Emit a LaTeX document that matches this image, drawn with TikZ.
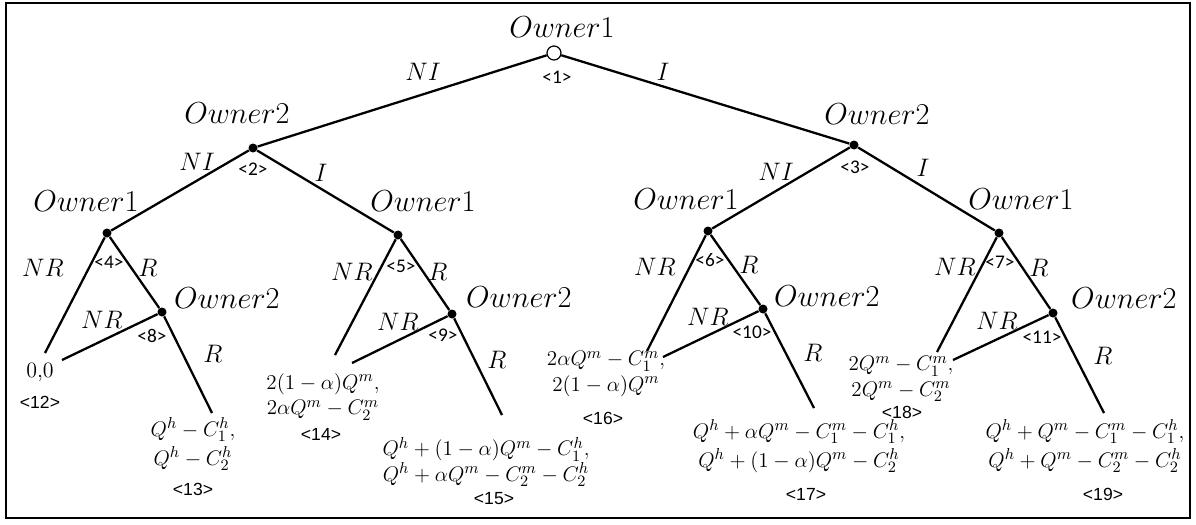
\documentclass[tikz,border=0pt]{standalone}
\usepackage{fontspec}
\newfontfamily\idxfont{Carlito}
\newfontfamily\leaffont{Liberation Sans}
\begin{document}
\begin{tikzpicture}[x=0.02cm,y=-0.02cm,
  dec/.style={circle,fill,inner sep=0pt,minimum size=0.18cm},
  root/.style={circle,draw,fill=white,inner sep=0pt,minimum size=0.28cm,line width=0.7pt},
  edge/.style={line width=1.3pt},
  owner/.style={font=\fontsize{16.5}{19}\selectfont},
  move/.style={font=\fontsize{15.5}{18}\selectfont},
  idx/.style={font=\idxfont\fontsize{11}{13}\selectfont,inner sep=0pt},
  leafidx/.style={font=\leaffont\fontsize{10}{12}\selectfont,inner sep=0pt},
  pay/.style={font=\fontsize{12.5}{14.5}\selectfont,align=center,inner sep=0pt}]
  \useasboundingbox (0,0) rectangle (1196,524);
  % Frame
  \draw[line width=1.3pt] (6,3) rectangle (1190,518);
  % Decision nodes
  \node[root] (n1) at (554,53) {};
  \node[dec] (n2) at (253,148) {};
  \node[dec] (n3) at (854,145) {};
  \node[dec] (n4) at (107,233) {};
  \node[dec] (n5) at (398,235) {};
  \node[dec] (n6) at (708,231) {};
  \node[dec] (n7) at (999,233) {};
  \node[dec] (n8) at (162,312) {};
  \node[dec] (n9) at (452,314) {};
  \node[dec] (n10) at (763,309) {};
  \node[dec] (n11) at (1053,313) {};
  % Leaf ends
  \coordinate (e12a) at (45,353);
  \coordinate (e12b) at (62,360);
  \coordinate (e13) at (212,413);
  \coordinate (e14a) at (335,355);
  \coordinate (e14b) at (352,363);
  \coordinate (e15) at (502,415);
  \coordinate (e16a) at (647,351);
  \coordinate (e16b) at (663,357);
  \coordinate (e17) at (814,408);
  \coordinate (e18a) at (937,352);
  \coordinate (e18b) at (953,360);
  \coordinate (e19) at (1104,413);
  % Branches
  \draw[edge] (n1) -- (n2);
  \draw[edge] (n1) -- (n3);
  \draw[edge] (n2) -- (n4);
  \draw[edge] (n2) -- (n5);
  \draw[edge] (n3) -- (n6);
  \draw[edge] (n3) -- (n7);
  \draw[edge] (n4) -- (e12a);
  \draw[edge] (n4) -- (n8);
  \draw[edge] (n8) -- (e12b);
  \draw[edge] (n8) -- (e13);
  \draw[edge] (n5) -- (e14a);
  \draw[edge] (n5) -- (n9);
  \draw[edge] (n9) -- (e14b);
  \draw[edge] (n9) -- (e15);
  \draw[edge] (n6) -- (e16a);
  \draw[edge] (n6) -- (n10);
  \draw[edge] (n10) -- (e16b);
  \draw[edge] (n10) -- (e17);
  \draw[edge] (n7) -- (e18a);
  \draw[edge] (n7) -- (n11);
  \draw[edge] (n11) -- (e18b);
  \draw[edge] (n11) -- (e19);
  % Player labels
  \node[owner] (o1) at (562,27) {$Owner1$};
  \node[owner] (o2) at (237,113) {$Owner2$};
  \node[owner] (o3) at (877,114) {$Owner2$};
  \node[owner] (o4) at (86,201) {$Owner1$};
  \node[owner] (o5) at (423,201) {$Owner1$};
  \node[owner] (o6) at (686,199) {$Owner1$};
  \node[owner] (o7) at (1021,199) {$Owner1$};
  \node[owner,anchor=west] (o8) at (168,298) {$Owner2$};
  \node[owner,anchor=west] (o9) at (460,297) {$Owner2$};
  \node[owner,anchor=west] (o10) at (768,296) {$Owner2$};
  \node[owner,anchor=west] (o11) at (1065,298) {$Owner2$};
  % Node numbers
  \node[idx] (i1) at (557,77) {<1>};
  \node[idx] (i2) at (253,169) {<2>};
  \node[idx] (i3) at (855,167) {<3>};
  \node[idx] (i4) at (109,262) {<4>};
  \node[idx] (i5) at (401,266) {<5>};
  \node[idx] (i6) at (710,260) {<6>};
  \node[idx] (i7) at (1000,262) {<7>};
  \node[idx] (i8) at (152,336) {<8>};
  \node[idx] (i9) at (443,335) {<9>};
  \node[idx] (i10) at (752,332) {<10>};
  \node[idx] (i11) at (1042,337) {<11>};
  % Action labels
  \node[move] (a1) at (423,72) {$NI$};
  \node[move] (a2) at (663,72) {$I$};
  \node[move] (a3) at (197,162) {$NI$};
  \node[move] (a4) at (321,173) {$I$};
  \node[move] (a5) at (776,172) {$NI$};
  \node[move] (a6) at (923,168) {$I$};
  \node[move] (a7) at (43,268) {$NR$};
  \node[move] (a8) at (148,268) {$R$};
  \node[move] (a9) at (102,320) {$NR$};
  \node[move] (a10) at (213,354) {$R$};
  \node[move] (a11) at (352,272) {$NR$};
  \node[move] (a12) at (438,272) {$R$};
  \node[move] (a13) at (398,322) {$NR$};
  \node[move] (a14) at (497,360) {$R$};
  \node[move] (a15) at (655,267) {$NR$};
  \node[move] (a16) at (749,265) {$R$};
  \node[move] (a17) at (708,317) {$NR$};
  \node[move] (a18) at (813,353) {$R$};
  \node[move] (a19) at (955,267) {$NR$};
  \node[move] (a20) at (1039,268) {$R$};
  \node[move] (a21) at (997,321) {$NR$};
  \node[move] (a22) at (1103,356) {$R$};
  % Payoffs
  \node[pay] (p12) at (40,372) {0,0};
  \node[pay] (p13) at (193,444) {$Q^h-C_1^h,$\\[2pt]$Q^h-C_2^h$};
  \node[pay] (p14) at (323,397) {$2(1-\alpha)Q^m,$\\$2\alpha Q^m-C_2^m$};
  \node[pay] (p15) at (486,462) {$Q^h+(1-\alpha)Q^m-C_1^h,$\\$Q^h+\alpha Q^m-C_2^m-C_2^h$};
  \node[pay] (p16) at (606,374) {$2\alpha Q^m-C_1^m,$\\$2(1-\alpha)Q^m$};
  \node[pay] (p17) at (799,446) {$Q^h+\alpha Q^m-C_1^m-C_1^h,$\\[2pt]$Q^h+(1-\alpha)Q^m-C_2^h$};
  \node[pay] (p18) at (901,379) {$2Q^m-C_1^m,$\\$2Q^m-C_2^m$};
  \node[pay] (p19) at (1085,446) {$Q^h+Q^m-C_1^m-C_1^h,$\\[2pt]$Q^h+Q^m-C_2^m-C_2^h$};
  % Leaf numbers
  \node[leafidx] (i12) at (40,402) {<12>};
  \node[leafidx] (i13) at (193,489) {<13>};
  \node[leafidx] (i14) at (321,434) {<14>};
  \node[leafidx] (i15) at (494,499) {<15>};
  \node[leafidx] (i16) at (603,418) {<16>};
  \node[leafidx] (i17) at (806,494) {<17>};
  \node[leafidx] (i18) at (902,412) {<18>};
  \node[leafidx] (i19) at (1103,494) {<19>};
\end{tikzpicture}
\end{document}
